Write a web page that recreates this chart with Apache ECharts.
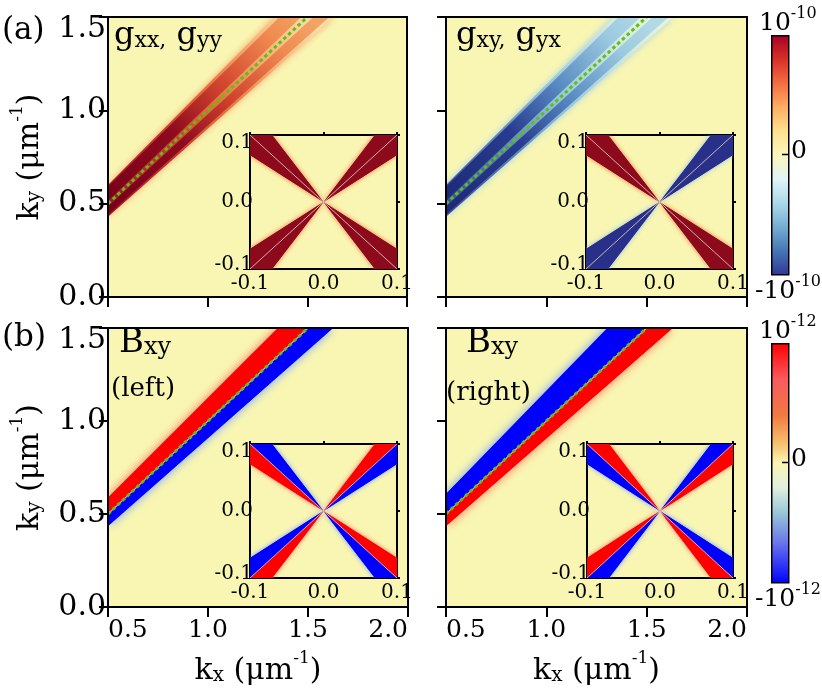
<!DOCTYPE html>
<html>
<head>
<meta charset="utf-8">
<title>quantum metric / Berry curvature maps</title>
<script src="https://cdn.jsdelivr.net/npm/echarts@6.0.0/dist/echarts.min.js"></script>
<style>
  html, body { margin: 0; padding: 0; background: #fff; }
  #chart { width: 822px; height: 691px; }
</style>
</head>
<body>
<div id="chart"></div>
<script>
// ---- values ----
const kxRange = [0.5, 2.0];
const kyRange = [0.0, 1.5];
const insetRange = [-0.1, 0.1];

// dashed green line kx = ky
const resonanceLine = [[0.5, 0.5], [1.5, 1.5]];
const insetDiagonals = [[[-0.1, -0.1], [0.1, 0.1]], [[-0.1, 0.1], [0.1, -0.1]]];

// (a) band, corners where it crosses kx = 0.5 and ky = 1.5
const metricBand = [[0.5, 0.43], [0.5, 0.60], [1.335, 1.5], [1.635, 1.5]];
const metricStripeUp = [[0.5, 0.515], [0.5, 0.59], [1.36, 1.5], [1.47, 1.5]];
const metricStripeLow = [[0.5, 0.44], [0.5, 0.485], [1.53, 1.5], [1.61, 1.5]];

// (b) bands above / below the line
const berryLeftUp = [[0.5, 0.506], [0.5, 0.588], [1.35, 1.5], [1.494, 1.5]];
const berryLeftLow = [[0.5, 0.435], [0.5, 0.494], [1.506, 1.5], [1.625, 1.5]];
const berryRightUp = [[0.5, 0.506], [0.5, 0.608], [1.305, 1.5], [1.494, 1.5]];
const berryRightLow = [[0.5, 0.435], [0.5, 0.494], [1.506, 1.5], [1.63, 1.5]];

// insets: half wedges on the ccw / cw side of each diagonal (Q1..Q4)
const wedgeCcw = [
  [[0, 0], [0.1, 0.1], [0.07, 0.1]],
  [[0, 0], [-0.1, 0.1], [-0.1, 0.07]],
  [[0, 0], [-0.1, -0.1], [-0.07, -0.1]],
  [[0, 0], [0.1, -0.1], [0.1, -0.07]]
];
const wedgeCw = [
  [[0, 0], [0.1, 0.07], [0.1, 0.1]],
  [[0, 0], [-0.07, 0.1], [-0.1, 0.1]],
  [[0, 0], [-0.1, -0.07], [-0.1, -0.1]],
  [[0, 0], [0.07, -0.1], [0.1, -0.1]]
];
// sign of each half wedge, +1 positive (red) / -1 negative (blue)
const gxxCcwSign = [1, 1, 1, 1], gxxCwSign = [1, 1, 1, 1];
const gxyCcwSign = [-1, 1, -1, 1], gxyCwSign = [-1, 1, -1, 1];
const leftCcwSign = [1, 1, 1, 1], leftCwSign = [-1, -1, -1, -1];
const rightCcwSign = [-1, -1, -1, -1], rightCwSign = [1, 1, 1, 1];

// ---- styles ----
const FONT = 'DejaVu Serif';
const BG = '#f9f6b3';
const cmapA = ['#a50026', '#d73027', '#f46d43', '#fdae61', '#fee090', '#fbf7bb',
               '#e0f3f8', '#abd9e9', '#74add1', '#4575b4', '#313695'];
const cmapB = [[0, '#ff0000'], [0.15, '#f75a5e'], [0.3, '#f07a42'], [0.42, '#f6c26e'],
               [0.5, '#faf6b4'], [0.6, '#e2efe0'], [0.7, '#9ccad8'], [0.83, '#6a76ea'], [1, '#0000ff']];

const chart = echarts.init(document.getElementById('chart'));

const grids = [
  { left: 108, top: 17, width: 299, height: 280 },
  { left: 446, top: 17, width: 301, height: 280 },
  { left: 108, top: 328, width: 300, height: 279 },
  { left: 446, top: 328, width: 301, height: 279 },
  { left: 250, top: 135, width: 147, height: 134 },
  { left: 586, top: 135, width: 147, height: 134 },
  { left: 250, top: 444, width: 147, height: 134 },
  { left: 587, top: 444, width: 146, height: 134 }
].map(g => Object.assign(g, { show: true, backgroundColor: BG, borderWidth: 0, outerBoundsMode: 'none' }));

const nameRich = {
  k: { fontSize: 30, fontFamily: FONT, lineHeight: 36, verticalAlign: 'bottom', color: '#000' },
  s: { fontSize: 20, fontFamily: FONT, lineHeight: 24, verticalAlign: 'bottom', color: '#000' },
  p: { fontSize: 17, fontFamily: FONT, lineHeight: 18, verticalAlign: 'top', color: '#000' }
};

const xAxes = [], yAxes = [];
const frameLine = { show: true, onZero: false, lineStyle: { color: '#000', width: 2 } };
const noTick = { show: false };

function addFrame(gi, opt) {
  const inset = gi >= 4;
  const xr = inset ? insetRange : kxRange, yr = inset ? insetRange : kyRange;
  const step = inset ? 0.1 : 0.5;
  const xfs = inset ? 20 : 25;
  const yfs = inset ? 20 : 30;
  const base = { gridIndex: gi, type: 'value', interval: step, splitLine: { show: false },
                 axisLine: frameLine, z: 10, nameMoveOverlap: false };
  const outTick = len => ({ show: true, inside: false, length: len, lineStyle: { color: '#000', width: 2 } });

  xAxes.push(Object.assign({}, base, {
    position: 'bottom', min: xr[0], max: xr[1],
    axisTick: inset ? noTick : outTick(10),
    axisLabel: {
      show: opt.xLabel, color: '#000', fontFamily: FONT, fontSize: xfs, margin: inset ? 5 : 11,
      alignMinLabel: inset ? 'center' : 'left', alignMaxLabel: inset ? 'center' : 'right',
      formatter: v => v.toFixed(1)
    },
    name: opt.xName ? '{k|k}{s|x}{k| (μm}{p|-1}{k|)}' : '',
    nameLocation: 'middle', nameGap: 43, nameTextStyle: { rich: nameRich }
  }));
  xAxes.push(Object.assign({}, base, {
    position: 'top', min: xr[0], max: xr[1],
    axisTick: inset ? outTick(3) : noTick, axisLabel: { show: false }
  }));
  yAxes.push(Object.assign({}, base, {
    position: 'left', min: yr[0], max: yr[1],
    axisTick: inset ? noTick : outTick(9),
    axisLabel: {
      show: opt.yLabel, color: '#000', fontFamily: FONT, fontSize: yfs, margin: inset ? -3 : 2,
      formatter: v => {
        const s = v.toFixed(1);
        if (Math.abs(v - yr[1]) < 1e-9) return '{hi|' + s + '}';
        if (inset && Math.abs(v - yr[0]) < 1e-9) return '{lo|' + s + '}';
        return '{n|' + s + '}';
      },
      rich: {
        n: { fontSize: yfs, fontFamily: FONT, color: '#000' },
        hi: { fontSize: yfs, fontFamily: FONT, color: '#000', padding: [inset ? 16 : 24, 0, 0, 0] },
        lo: { fontSize: yfs, fontFamily: FONT, color: '#000', padding: [0, 0, 8, 0] }
      }
    },
    name: opt.yName ? '{k|k}{s|y}{k| (μm}{p|-1}{k|)}' : '',
    nameLocation: 'middle', nameRotate: 90, nameGap: 63, nameTextStyle: { rich: nameRich }
  }));
  yAxes.push(Object.assign({}, base, {
    position: 'right', min: yr[0], max: yr[1],
    axisTick: inset ? outTick(3) : noTick, axisLabel: { show: false }
  }));
}

addFrame(0, { yLabel: true, yName: true });
addFrame(1, {});
addFrame(2, { xLabel: true, yLabel: true, xName: true, yName: true });
addFrame(3, { xLabel: true, xName: true });
for (let gi = 4; gi < 8; gi++) addFrame(gi, { xLabel: true, yLabel: true });

// gradient running along the kx = ky direction
function alongBand(api, stops) {
  const a = api.coord(resonanceLine[0]);
  const b = api.coord(resonanceLine[1]);
  return new echarts.graphic.LinearGradient(a[0], a[1], b[0], b[1], stops, true);
}

// polygons drawn through the grid's own axes; glow adds a soft rim
function polySeries(gi, shapes, z, blur) {
  return {
    type: 'custom', xAxisIndex: gi * 2, yAxisIndex: gi * 2,
    clip: true, silent: true, z: z, animation: false,
    data: shapes.map((s, i) => [i]),
    renderItem: (params, api) => {
      const s = shapes[params.dataIndex];
      const style = { fill: typeof s.fill === 'function' ? s.fill(api) : s.fill };
      if (blur) { style.shadowBlur = blur; style.shadowColor = s.glow; }
      return { type: 'polygon', shape: { points: s.pts.map(p => api.coord(p)) }, style: style };
    }
  };
}

const redStops = {
  band: [{ offset: 0, color: '#a4162a' }, { offset: 0.3, color: '#c23830' },
         { offset: 0.55, color: '#e8703e' }, { offset: 0.8, color: '#f6b47c' }, { offset: 1, color: '#fadcaa' }],
  stripe: [{ offset: 0, color: '#78001a' }, { offset: 0.35, color: '#8e0a1e' },
           { offset: 0.6, color: '#d2452e' }, { offset: 0.85, color: '#f08a50' }, { offset: 1, color: '#f3a364' }]
};
const blueStops = {
  band: [{ offset: 0, color: '#3a4f9e' }, { offset: 0.3, color: '#5a80ba' },
         { offset: 0.55, color: '#94c4de' }, { offset: 0.8, color: '#c6e2e4' }, { offset: 1, color: '#e6f2da' }],
  stripe: [{ offset: 0, color: '#1f2a78' }, { offset: 0.35, color: '#283b8e' },
           { offset: 0.6, color: '#5a8cc2' }, { offset: 0.85, color: '#9ccae0' }, { offset: 1, color: '#b2d9e6' }]
};

function metricSeries(gi, stops, glow) {
  return [
    polySeries(gi, [{ pts: metricBand, fill: api => alongBand(api, stops.band), glow: glow }], 2, 7),
    polySeries(gi, [
      { pts: metricStripeUp, fill: api => alongBand(api, stops.stripe) },
      { pts: metricStripeLow, fill: api => alongBand(api, stops.stripe) }
    ], 3, 0)
  ];
}

const RED = '#ff0000', BLUE = '#0000ff';
const RED_GLOW = 'rgba(255,105,80,1)', BLUE_GLOW = 'rgba(105,150,255,1)';

function berrySeries(gi, up, upSign, low, lowSign) {
  const shapes = [
    { pts: up, fill: upSign > 0 ? RED : BLUE, glow: upSign > 0 ? RED_GLOW : BLUE_GLOW },
    { pts: low, fill: lowSign > 0 ? RED : BLUE, glow: lowSign > 0 ? RED_GLOW : BLUE_GLOW }
  ];
  return [polySeries(gi, shapes, 2, 10), polySeries(gi, shapes, 3, 0)];
}

function insetSeries(gi, ccwSign, cwSign, pos, neg) {
  const shapes = [];
  for (let q = 0; q < 4; q++) {
    shapes.push(Object.assign({ pts: wedgeCcw[q] }, ccwSign[q] > 0 ? pos : neg));
    shapes.push(Object.assign({ pts: wedgeCw[q] }, cwSign[q] > 0 ? pos : neg));
  }
  const out = [polySeries(gi, shapes, 12, 5), polySeries(gi, shapes, 13, 0)];
  insetDiagonals.forEach(d => out.push({
    type: 'line', xAxisIndex: gi * 2, yAxisIndex: gi * 2, data: d, symbol: 'none',
    silent: true, animation: false, z: 14,
    lineStyle: { color: 'rgba(215,190,190,0.9)', width: 1 }
  }));
  return out;
}

function greenLine(gi) {
  return {
    type: 'line', xAxisIndex: gi * 2, yAxisIndex: gi * 2, data: resonanceLine,
    symbol: 'none', silent: true, animation: false, z: 5,
    lineStyle: { color: '#5ec010', width: 3, type: [3.5, 3] }
  };
}

const darkRed = { fill: '#8c0a1c', glow: 'rgba(236,112,62,1)' };
const darkBlue = { fill: '#28308a', glow: 'rgba(140,190,225,1)' };
const pureRed = { fill: RED, glow: RED_GLOW };
const pureBlue = { fill: BLUE, glow: BLUE_GLOW };

const series = [].concat(
  metricSeries(0, redStops, 'rgba(244,165,105,0.9)'), [greenLine(0)],
  metricSeries(1, blueStops, 'rgba(160,205,228,0.9)'), [greenLine(1)],
  berrySeries(2, berryLeftUp, 1, berryLeftLow, -1), [greenLine(2)],
  berrySeries(3, berryRightUp, -1, berryRightLow, 1), [greenLine(3)],
  insetSeries(4, gxxCcwSign, gxxCwSign, darkRed, darkBlue),
  insetSeries(5, gxyCcwSign, gxyCwSign, darkRed, darkBlue),
  insetSeries(6, leftCcwSign, leftCwSign, pureRed, pureBlue),
  insetSeries(7, rightCcwSign, rightCwSign, pureRed, pureBlue)
);

// ---- text and colour bars ----
function label(left, top, text, rich) {
  return { type: 'text', left: left, top: top, z: 50, silent: true,
           style: { text: text, rich: rich, font: '26px ' + FONT, fill: '#000' } };
}
const panelRich = {
  g: { fontSize: 32, fontFamily: FONT, lineHeight: 36, verticalAlign: 'bottom', fill: '#000' },
  s: { fontSize: 22, fontFamily: FONT, lineHeight: 26, verticalAlign: 'bottom', fill: '#000' },
  B: { fontSize: 34, fontFamily: FONT, lineHeight: 38, verticalAlign: 'bottom', fill: '#000' },
  t: { fontSize: 24, fontFamily: FONT, lineHeight: 30, verticalAlign: 'bottom', fill: '#000' },
  w: { fontSize: 26, fontFamily: FONT, lineHeight: 30, verticalAlign: 'bottom', fill: '#000' },
  ab: { fontSize: 31, fontFamily: FONT, lineHeight: 36, verticalAlign: 'bottom', fill: '#000' }
};
const powRich = {
  b: { fontSize: 25, fontFamily: FONT, lineHeight: 30, verticalAlign: 'bottom', fill: '#000' },
  p: { fontSize: 16, fontFamily: FONT, lineHeight: 18, verticalAlign: 'top', fill: '#000' }
};

function colorbar(top, stops, hi, lo) {
  return [
    { type: 'rect', left: 771, top: top, z: 40, silent: true, shape: { width: 17, height: 239 },
      style: { fill: new echarts.graphic.LinearGradient(0, 0, 0, 1, stops), stroke: '#000', lineWidth: 1.5 } },
    { type: 'line', z: 41, silent: true, shape: { x1: 782, y1: top + 119.5, x2: 789, y2: top + 119.5 },
      style: { stroke: '#000', lineWidth: 1.5 } },
    label(759, top - 29, '{b|10}{p|' + hi + '}', powRich),
    label(755, top + 239, '{b|-10}{p|' + lo + '}', powRich),
    label(791, top + 104, '{b|0}', powRich)
  ];
}

const graphic = [].concat(
  [label(2, 15, '{ab|(a)}', panelRich), label(2, 322, '{ab|(b)}', panelRich),
   label(114, 20, '{g|g}{s|xx,}{g| g}{s|yy}', panelRich),
   label(456, 20, '{g|g}{s|xy,}{g| g}{s|yx}', panelRich),
   label(119, 326, '{B|B}{t|xy}', panelRich), label(111, 376, '{w|(left)}', panelRich),
   label(466, 326, '{B|B}{t|xy}', panelRich), label(446, 380, '{w|(right)}', panelRich)],
  colorbar(35, cmapA.map((c, i) => ({ offset: i / (cmapA.length - 1), color: c })), '-10', '-10'),
  colorbar(343, cmapB.map(s => ({ offset: s[0], color: s[1] })), '-12', '-12')
);

chart.setOption({
  animation: false,
  backgroundColor: '#fff',
  grid: grids,
  xAxis: xAxes,
  yAxis: yAxes,
  series: series,
  graphic: graphic
});
</script>
</body>
</html>
